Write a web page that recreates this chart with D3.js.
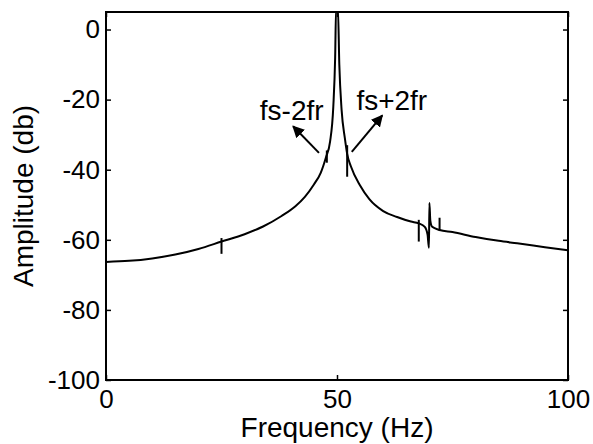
<!DOCTYPE html>
<html>
<head>
<meta charset="utf-8">
<script src="https://cdn.jsdelivr.net/npm/d3@7"></script>
<style>
  body { margin: 0; background: #fff; }
  svg text { font-family: Arial, "Liberation Sans", sans-serif; fill: #000; }
</style>
</head>
<body>
<div id="chart"></div>
<script>
// spectrum: frequency (Hz) and amplitude (db)
var freq = [0, 5, 10, 15, 20, 25, 30, 34, 38, 41, 43, 45, 46.5, 47.6, 48.5, 49.2, 49.6, 49.8,
            50.2, 50.5, 51, 51.7, 52.2, 53, 55, 57, 60, 63, 66, 67.7, 69, 69.6, 69.9,
            70, 70.2, 70.6, 72.2, 75, 80, 85, 89, 95, 100];
var amp  = [-66.3, -66, -65.3, -64.2, -62.6, -60.5, -58.4, -56.2, -53.2, -50.4, -47.8, -44.2, -40.8, -36.5, -32, -22, -8, 6,
            6, -10, -23, -31, -35.5, -39, -44.5, -48.4, -51.8, -53.5, -54.8, -55.3, -56.3, -58.5, -62.3,
            -49.5, -54.5, -56.3, -57.2, -57.8, -59.2, -60.3, -61, -62.1, -63];

// short spikes (sidebands) : position, top, bottom
var spikeFreq   = [25, 47.8, 52.2, 67.7, 72.2];
var spikeTop    = [-59.5, -34.5, -33, -54.3, -53.7];
var spikeBottom = [-64, -38, -42, -60.5, -57.5];

// annotations
var noteText = ['fs-2fr', 'fs+2fr'];
var noteX    = [33.3, 54.2];
var noteY    = [-25.8, -23.0];
var arrowFrom = [[46.1, -35.2], [53.2, -34.9]];
var arrowTo   = [[40.5, -27.6], [59.8, -24.5]];

var xTicks = [0, 50, 100];
var yTicks = [-100, -80, -60, -40, -20, 0];

var width = 593, height = 444;
var margin = {left: 106, right: 25, top: 12, bottom: 64};
var plotW = width - margin.left - margin.right;
var plotH = height - margin.top - margin.bottom;

var svg = d3.select('#chart').append('svg')
            .attr('width', width).attr('height', height);

var x = d3.scaleLinear().domain([0, 100]).range([0, plotW]);
var y = d3.scaleLinear().domain([-100, 5]).range([plotH, 0]);

var g = svg.append('g').attr('transform', 'translate(' + margin.left + ',' + margin.top + ')');

var defs = svg.append('defs');
defs.append('clipPath').attr('id', 'clip')
    .append('rect').attr('width', plotW).attr('height', plotH);
defs.append('marker')
    .attr('id', 'head').attr('viewBox', '0 0 10 10')
    .attr('refX', 9).attr('refY', 5)
    .attr('markerWidth', 6).attr('markerHeight', 6)
    .attr('markerUnits', 'strokeWidth')
    .attr('orient', 'auto')
    .append('path').attr('d', 'M0,0 L10,5 L0,10 z').attr('fill', '#000');

// the spectrum line
var points = freq.map(function (f, i) { return [f, amp[i]]; });
var line = d3.line()
             .x(function (d) { return x(d[0]); })
             .y(function (d) { return y(d[1]); })
             .curve(d3.curveMonotoneX);

var plot = g.append('g').attr('clip-path', 'url(#clip)');
plot.append('path').datum(points)
    .attr('d', line)
    .attr('fill', 'none').attr('stroke', '#000').attr('stroke-width', 2);

plot.selectAll('.spike').data(spikeFreq).enter().append('line')
    .attr('class', 'spike')
    .attr('x1', function (d) { return x(d); })
    .attr('x2', function (d) { return x(d); })
    .attr('y1', function (d, i) { return y(spikeTop[i]); })
    .attr('y2', function (d, i) { return y(spikeBottom[i]); })
    .attr('stroke', '#000').attr('stroke-width', 2);

// axes, MATLAB style: ticks inside, on all four sides, plain hyphen minus
var tickLen = 5;
var plain = function (d) { return String(d); };
var xAxisB = d3.axisBottom(x).tickValues(xTicks).tickSizeInner(-tickLen).tickSizeOuter(0).tickPadding(10).tickFormat(plain);
var xAxisT = d3.axisTop(x).tickValues(xTicks).tickSizeInner(-tickLen).tickSizeOuter(0).tickFormat('');
var yAxisL = d3.axisLeft(y).tickValues(yTicks).tickSizeInner(-tickLen).tickSizeOuter(0).tickPadding(6).tickFormat(plain);
var yAxisR = d3.axisRight(y).tickValues(yTicks).tickSizeInner(-tickLen).tickSizeOuter(0).tickFormat('');

function styleAxis(sel) {
    sel.select('.domain').remove();
    sel.selectAll('.tick line').attr('stroke', '#000').attr('stroke-width', 1.5);
    sel.selectAll('.tick text').style('font-size', '26px').attr('fill', '#000');
}
g.append('g').attr('transform', 'translate(0,' + plotH + ')').call(xAxisB).call(styleAxis);
g.append('g').call(xAxisT).call(styleAxis);
g.append('g').call(yAxisL).call(styleAxis);
g.append('g').attr('transform', 'translate(' + plotW + ',0)').call(yAxisR).call(styleAxis);

g.append('rect').attr('width', plotW).attr('height', plotH)
 .attr('fill', 'none').attr('stroke', '#000').attr('stroke-width', 2);

// annotations
g.selectAll('.note').data(noteText).enter().append('text')
 .attr('class', 'note')
 .attr('x', function (d, i) { return x(noteX[i]); })
 .attr('y', function (d, i) { return y(noteY[i]); })
 .style('font-size', '28px')
 .text(function (d) { return d; });

g.selectAll('.arrow').data(arrowFrom).enter().append('line')
 .attr('class', 'arrow')
 .attr('x1', function (d) { return x(d[0]); })
 .attr('y1', function (d) { return y(d[1]); })
 .attr('x2', function (d, i) { return x(arrowTo[i][0]); })
 .attr('y2', function (d, i) { return y(arrowTo[i][1]); })
 .attr('stroke', '#000').attr('stroke-width', 2)
 .attr('marker-end', 'url(#head)');

// axis labels
svg.append('text')
   .attr('x', margin.left + plotW / 2).attr('y', 437)
   .attr('text-anchor', 'middle').style('font-size', '28px')
   .text('Frequency (Hz)');
svg.append('text')
   .attr('transform', 'translate(33,' + (margin.top + plotH / 2) + ') rotate(-90)')
   .attr('text-anchor', 'middle').style('font-size', '28px')
   .text('Amplitude (db)');
</script>
</body>
</html>
